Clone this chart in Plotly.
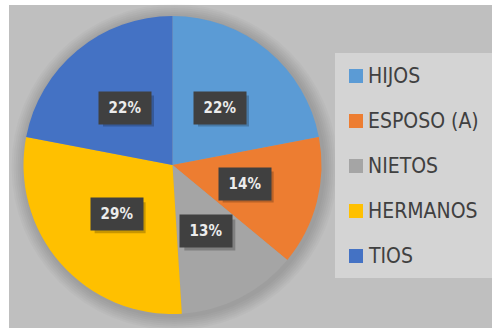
import math
import plotly.graph_objects as go

# Data
labels = ["HIJOS", "ESPOSO (A)", "NIETOS", "HERMANOS", "TIOS"]
values = [22, 14, 13, 29, 22]
colors = ["#5b9bd5", "#ed7d31", "#a5a5a5", "#ffc000", "#4472c4"]

W, H = 492, 328

def px(x):
    return x / W

def py(y):
    return 1 - y / H

# pie geometry in pixels
cx, cy, r = 172.5, 165.0, 149.0

fig = go.Figure()
fig.add_trace(go.Pie(
    labels=labels,
    values=values,
    marker=dict(colors=colors, line=dict(width=0)),
    sort=False,
    direction="clockwise",
    rotation=0,
    textinfo="none",
    hoverinfo="label+percent",
    showlegend=False,
    domain=dict(x=[px(cx - r), px(cx + r)], y=[py(cy + r), py(cy - r)]),
))

shapes = []
annotations = []

# background panel
shapes.append(dict(type="rect", xref="paper", yref="paper",
                   x0=px(9), x1=1, y0=0, y1=py(5),
                   fillcolor="#bfbfbf", line=dict(width=0), layer="below"))
# soft shadow around the pie
for grow in range(14, 0, -2):
    rr = r + grow
    shapes.append(dict(type="circle", xref="paper", yref="paper",
                       x0=px(cx - rr + 2), x1=px(cx + rr + 2),
                       y0=py(cy + rr + 2), y1=py(cy - rr + 2),
                       fillcolor="rgba(0,0,0,0.025)",
                       line=dict(width=0), layer="below"))

# legend panel
shapes.append(dict(type="rect", xref="paper", yref="paper",
                   x0=px(335), x1=1, y0=py(278), y1=py(53),
                   fillcolor="#d4d4d4", line=dict(width=0), layer="below"))

# percentage labels in dark boxes at the middle of each slice
total = sum(values)
cum = 0
bw, bh = 50, 30
for v in values:
    mid = (cum + v / 2) / total * 2 * math.pi
    cum += v
    lx = cx + 0.5 * r * math.sin(mid)
    ly = cy - 0.5 * r * math.cos(mid)
    # drop shadow
    shapes.append(dict(type="rect", xref="paper", yref="paper",
                       x0=px(lx - bw / 2 + 3), x1=px(lx + bw / 2 + 4),
                       y0=py(ly + bh / 2 + 4), y1=py(ly - bh / 2 + 3),
                       fillcolor="rgba(0,0,0,0.22)", line=dict(width=0),
                       layer="above"))
    annotations.append(dict(
        x=px(lx), y=py(ly), xref="paper", yref="paper",
        text="<b>%d%%</b>" % round(v / total * 100),
        showarrow=False, xanchor="center", yanchor="middle",
        width=bw, height=bh, bgcolor="#404040",
        font=dict(family="DejaVu Sans Condensed, Liberation Sans, sans-serif",
                  size=15, color="#ececec"),
    ))

# legend entries
ys = [76, 121, 166, 211, 256]
for lab, col, yy in zip(labels, colors, ys):
    shapes.append(dict(type="rect", xref="paper", yref="paper",
                       x0=px(349), x1=px(363), y0=py(yy + 7), y1=py(yy - 7),
                       fillcolor=col, line=dict(width=0), layer="above"))
    annotations.append(dict(
        x=px(366), y=py(yy), xref="paper", yref="paper",
        text=lab, showarrow=False, xanchor="left", yanchor="middle",
        font=dict(family="DejaVu Sans Condensed, Liberation Sans, sans-serif",
                  size=21, color="#404040"),
    ))

fig.update_layout(
    width=W, height=H,
    margin=dict(l=0, r=0, t=0, b=0),
    paper_bgcolor="white",
    plot_bgcolor="white",
    shapes=shapes,
    annotations=annotations,
)

fig.write_html("out.html", config={"displayModeBar": False})
